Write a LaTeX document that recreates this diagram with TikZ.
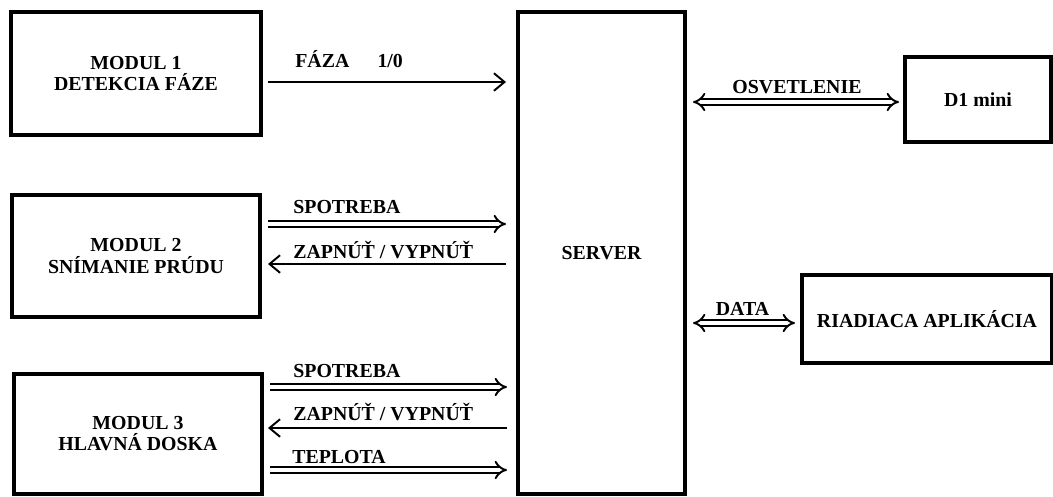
\documentclass[tikz,border=0pt]{standalone}
\usepackage{fontspec}
\setmainfont{Liberation Serif}
\usetikzlibrary{arrows.meta}

\begin{document}
\begin{tikzpicture}[
        blok/.style={draw, line width=2.2pt, inner sep=0pt, outer sep=0pt, align=center,
            font=\bfseries\fontsize{11.3}{12}\selectfont},
        lbl/.style={inner sep=0pt, anchor=base west, font=\bfseries\fontsize{11.3}{12}\selectfont},
        sig/.style={line width=1.1pt, -{Straight Barb[length=6pt,width=10pt]}},
        dbl/.style={double, line width=1.1pt, double distance=2.4pt, -{Implies[scale=1.7]}},
        obo/.style={double, line width=1.1pt, double distance=2.4pt, {Implies[scale=1.7]}-{Implies[scale=1.7]}}
    ]
        \useasboundingbox (0,0) rectangle (21.06,-9.92);

        \node[blok, minimum width=5cm, minimum height=2.46cm] (m1) at (2.72,-1.47) {MODUL 1\\DETEKCIA FÁZE};
        \node[blok, minimum width=4.96cm, minimum height=2.44cm] (m2) at (2.72,-5.12) {MODUL 2\\SNÍMANIE PRÚDU};
        \node[blok, minimum width=4.96cm, minimum height=2.4cm] (m3) at (2.76,-8.68) {MODUL 3\\HLAVNÁ DOSKA};
        \node[blok, minimum width=3.34cm, minimum height=9.64cm] (server) at (12.03,-5.06) {SERVER};
        \node[blok, minimum width=2.92cm, minimum height=1.7cm] (d1) at (19.56,-1.99) {D1 mini};
        \node[blok, minimum width=5cm, minimum height=1.76cm] (app) at (18.54,-6.38) {RIADIACA APLIKÁCIA};

        \draw[sig] ([xshift=0.14cm,yshift=-0.17cm]m1.east) -- ([xshift=-0.24cm,yshift=-0.17cm]m1.east -| server.west);
        \draw[dbl] ([xshift=0.16cm,yshift=0.64cm]m2.east) -- ([xshift=-0.24cm,yshift=0.64cm]m2.east -| server.west);
        \draw[sig] ([xshift=-0.24cm,yshift=-0.16cm]m2.east -| server.west) -- ([xshift=0.16cm,yshift=-0.16cm]m2.east);
        \draw[dbl] ([xshift=0.16cm,yshift=0.94cm]m3.east) -- ([xshift=-0.22cm,yshift=0.94cm]m3.east -| server.west);
        \draw[sig] ([xshift=-0.22cm,yshift=0.12cm]m3.east -| server.west) -- ([xshift=0.12cm,yshift=0.12cm]m3.east);
        \draw[dbl] ([xshift=0.16cm,yshift=-0.72cm]m3.east) -- ([xshift=-0.22cm,yshift=-0.72cm]m3.east -| server.west);
        \draw[obo] ([xshift=0.16cm,yshift=-0.05cm]server.east |- d1.west) -- ([xshift=-0.12cm,yshift=-0.05cm]d1.west);
        \draw[obo] ([xshift=0.16cm,yshift=-0.08cm]server.east |- app.west) -- ([xshift=-0.14cm,yshift=-0.08cm]app.west);

        \node[lbl] (faza) at ([xshift=0.68cm,yshift=0.13cm]m1.east) {FÁZA\hspace{16pt}1/0};
        \node[lbl] (spot2) at ([xshift=0.66cm,yshift=0.86cm]m2.east) {SPOTREBA};
        \node[lbl] (zap2) at ([xshift=0.66cm,yshift=-0.04cm]m2.east) {ZAPNÚŤ / VYPNÚŤ};
        \node[lbl] (spot3) at ([xshift=0.62cm,yshift=1.14cm]m3.east) {SPOTREBA};
        \node[lbl] (zap3) at ([xshift=0.62cm,yshift=0.28cm]m3.east) {ZAPNÚŤ / VYPNÚŤ};
        \node[lbl] (tepl) at ([xshift=0.60cm,yshift=-0.58cm]m3.east) {TEPLOTA};
        \node[lbl, anchor=base] (osv) at ([xshift=2.24cm,yshift=0.13cm]server.east |- d1.west) {OSVETLENIE};
        \node[lbl, anchor=base] (data) at ([xshift=1.15cm,yshift=0.08cm]server.east |- app.west) {DATA};

    \end{tikzpicture}
\end{document}
